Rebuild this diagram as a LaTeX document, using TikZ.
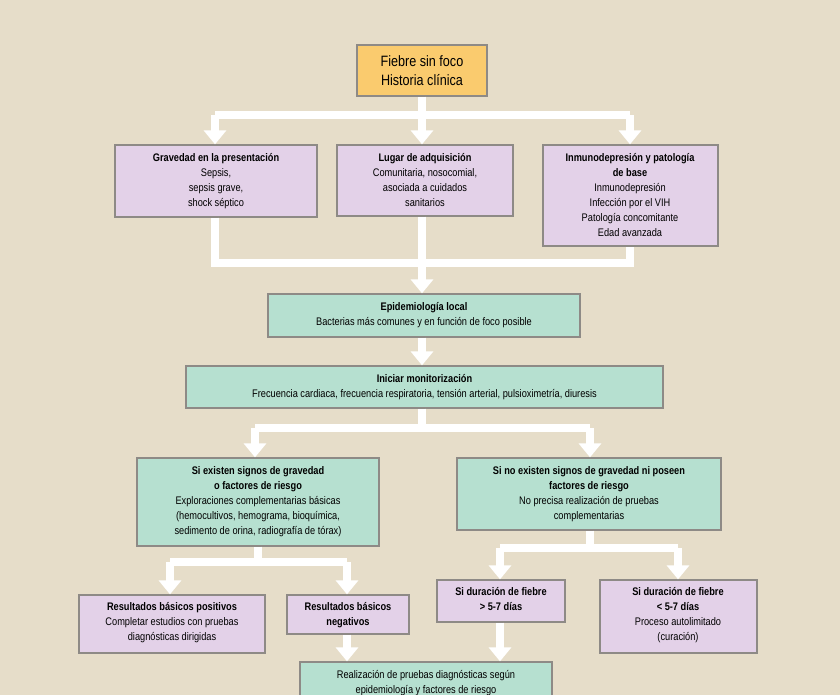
\documentclass[tikz,border=0pt]{standalone}
\usepackage{fontspec}
\setmainfont{Liberation Sans}[FakeStretch=0.84]
\usetikzlibrary{arrows.meta}
\definecolor{bg}{HTML}{E6DDC9}
\definecolor{org}{HTML}{FACB6E}
\definecolor{lil}{HTML}{E3D1E8}
\definecolor{grn}{HTML}{B6E0D0}
\definecolor{bd}{HTML}{8E8A86}
\begin{document}
\begin{tikzpicture}[x=1pt,y=-1pt,
 box/.style={draw=bd,line width=1.3pt,align=center,inner sep=0pt,font=\fontsize{11}{14.5}\selectfont},
 conn/.style={draw=white,line width=8pt},
 arr/.style={conn,-{Triangle[width=22pt,length=14pt]}},
]
\fill[bg] (0,0) rectangle (840,695);
\useasboundingbox (0,0) rectangle (840,695);
\newcommand{\bx}[6]{\node[box,fill=#6,minimum width=#4-#2,minimum height=#5-#3] (#1) at ({(#2+#4)/2},{(#3+#5)/2}) {};}
\bx{top}{357}{45}{487}{96}{org}
\node[align=center,font=\fontsize{15}{19}\selectfont] at (top) {Fiebre sin foco\\Historia clínica};
\bx{grav}{115}{145}{317}{217}{lil}
\node[align=center,font=\fontsize{11}{15}\selectfont,anchor=north] at (216,150) {\textbf{Gravedad en la presentación}\\Sepsis,\\sepsis grave,\\shock séptico};
\bx{lug}{337}{145}{513}{216}{lil}
\node[align=center,font=\fontsize{11}{15}\selectfont,anchor=north] at (425,150) {\textbf{Lugar de adquisición}\\Comunitaria, nosocomial,\\asociada a cuidados\\sanitarios};
\bx{inm}{543}{145}{718}{246}{lil}
\node[align=center,font=\fontsize{11}{15}\selectfont,anchor=north] at (630,150) {\textbf{Inmunodepresión y patología}\\\textbf{de base}\\Inmunodepresión\\Infección por el VIH\\Patología concomitante\\Edad avanzada};
\bx{epi}{268}{294}{580}{337}{grn}
\node[align=center,font=\fontsize{11}{15}\selectfont] at (epi) {\textbf{Epidemiología local}\\Bacterias más comunes y en función de foco posible};
\bx{mon}{186}{366}{663}{408}{grn}
\node[align=center,font=\fontsize{11}{15}\selectfont] at (mon) {\textbf{Iniciar monitorización}\\Frecuencia cardiaca, frecuencia respiratoria, tensión arterial, pulsioximetría, diuresis};
\bx{si}{137}{458}{379}{546}{grn}
\node[align=center,font=\fontsize{11}{15}\selectfont] at (si) {\textbf{Si existen signos de gravedad}\\\textbf{o factores de riesgo}\\Exploraciones complementarias básicas\\(hemocultivos, hemograma, bioquímica,\\sedimento de orina, radiografía de tórax)};
\bx{no}{457}{458}{721}{530}{grn}
\node[align=center,font=\fontsize{11}{15}\selectfont,anchor=north] at (589,463) {\textbf{Si no existen signos de gravedad ni poseen}\\\textbf{factores de riesgo}\\No precisa realización de pruebas\\complementarias};
\bx{pos}{79}{595}{265}{653}{lil}
\node[align=center,font=\fontsize{11}{15}\selectfont,anchor=north] at (172,599) {\textbf{Resultados básicos positivos}\\Completar estudios con pruebas\\diagnósticas dirigidas};
\bx{neg}{287}{595}{409}{634}{lil}
\node[align=center,font=\fontsize{11}{15}\selectfont,anchor=north] at (348,599) {\textbf{Resultados básicos}\\\textbf{negativos}};
\bx{may}{437}{580}{565}{622}{lil}
\node[align=center,font=\fontsize{11}{15}\selectfont,anchor=north] at (501,584) {\textbf{Si duración de fiebre}\\\textbf{> 5-7 días}};
\bx{men}{600}{580}{757}{653}{lil}
\node[align=center,font=\fontsize{11}{15}\selectfont,anchor=north] at (678,584) {\textbf{Si duración de fiebre}\\\textbf{< 5-7 días}\\Proceso autolimitado\\(curación)};
\bx{real}{300}{662}{552}{712}{grn}
\node[align=center,font=\fontsize{11}{15}\selectfont,anchor=north] at (426,667) {Realización de pruebas diagnósticas según\\epidemiología y factores de riesgo};
% connectors
\coordinate (b1l) at (215,115); \coordinate (b1m) at (422,115); \coordinate (b1r) at (630,115);
\draw[conn] (top.south -| b1m) -- (b1m);
\draw[conn] (b1l) -- (b1r);
\draw[arr] (b1l) -- (grav.north -| b1l);
\draw[arr] (b1m) -- (lug.north -| b1m);
\draw[arr] (b1r) -- (inm.north -| b1r);
\coordinate (b2l) at (215,263); \coordinate (b2m) at (422,263); \coordinate (b2r) at (630,263);
\draw[conn,line join=miter] (grav.south -| b2l) -- (b2l) -- (b2r) -- (inm.south -| b2r);
\draw[conn] (lug.south -| b2m) -- (b2m);
\draw[arr] (b2m) -- (epi.north -| b2m);
\draw[arr] (epi.south -| b2m) -- (mon.north -| b2m);
\coordinate (b3l) at (255,428); \coordinate (b3r) at (590,428);
\draw[conn] (mon.south -| b2m) -- (b2m |- b3l);
\draw[conn] (b3l) -- (b3r);
\draw[arr] (b3l) -- (si.north -| b3l);
\draw[arr] (b3r) -- (no.north -| b3r);
\coordinate (b4m) at (258,562); \coordinate (b4l) at (170,562); \coordinate (b4r) at (347,562);
\draw[conn] (si.south -| b4m) -- (b4m);
\draw[conn] (b4l) -- (b4r);
\draw[arr] (b4l) -- (pos.north -| b4l);
\draw[arr] (b4r) -- (neg.north -| b4r);
\coordinate (b5m) at (590,548); \coordinate (b5l) at (500,548); \coordinate (b5r) at (678,548);
\draw[conn] (no.south -| b5m) -- (b5m);
\draw[conn] (b5l) -- (b5r);
\draw[arr] (b5l) -- (may.north -| b5l);
\draw[arr] (b5r) -- (men.north -| b5r);
\draw[arr] (neg.south -| b4r) -- (real.north -| b4r);
\draw[arr] (may.south -| b5l) -- (real.north -| b5l);
\end{tikzpicture}
\end{document}
